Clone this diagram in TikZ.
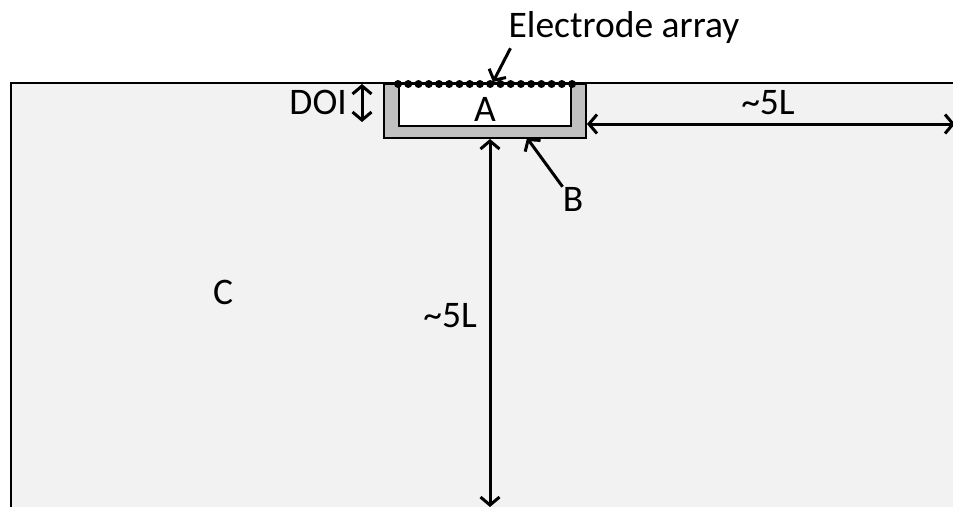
\documentclass[tikz,border=0pt]{standalone}
\usepackage{fontspec}
\setmainfont{Carlito}
\usepackage{xcolor}
\usepackage{tikz}
\usetikzlibrary{positioning, arrows.meta}
\definecolor{soilgrey}{HTML}{F2F2F2}
\definecolor{shellgrey}{HTML}{C0C0C0}

\begin{document}
\begin{tikzpicture}[x=1pt, y=-1pt,
    lbl/.style={font=\fontsize{37.5}{42}\selectfont, inner sep=2pt},
    zone/.style={draw=black, line width=2pt, inner sep=0pt, anchor=north west},
    pointer/.style={line width=3pt, -{Straight Barb[length=8pt, width=19pt, line width=3pt]}},
    span/.style={line width=3pt, {Straight Barb[length=8pt, width=19pt, line width=3pt]}-{Straight Barb[length=8pt, width=19pt, line width=3pt]}}]
    \useasboundingbox (0,0) rectangle (953,506);
    \clip (0,0) rectangle (953,506);
    % half space
    \draw[fill=soilgrey, line width=2pt] (11,83) rectangle (990,540);
    % inversion zones
    \node[zone, fill=shellgrey, minimum width=202pt, minimum height=54pt] (zoneB) at (383,83) {};
    \node[zone, fill=white, minimum width=172pt, minimum height=42pt] (zoneA) at (398,83) {};
    \node[lbl] (labA) at (zoneA.center) [yshift=-4pt] {A};
    % electrode array
    \draw[line width=2.2pt] (398,84) -- (572,84);
    \foreach \i in {0,...,17}
      \fill (398+\i*10.24, 84) circle (4pt);
    % labels
    \node[lbl] (elabel) at (624,28) {Electrode array};
    \node[lbl, anchor=east] (doi) at (349,102) {DOI};
    \node[lbl] (labB) at (573,199) {B};
    \node[lbl] (labC) at (223,292) {C};
    \coordinate (etip) at (493,82);
    \coordinate (btip) at (527,138);
    \coordinate (doitop) at (362,84);
    \coordinate (doibot) at (362,122);
    \coordinate (vbot) at (490,507);
    \coordinate (hend) at (955,124);
    \draw[pointer] ([xshift=4pt, yshift=-2pt]elabel.south west) -- (etip);
    \draw[pointer] ([xshift=2pt, yshift=-2pt]labB.north west) -- (btip);
    \draw[span] (doitop) -- (doibot);
    % extents
    \draw[span] (vbot |- zoneB.south) -- (vbot);
    \draw[span] (zoneB.east |- hend) -- (hend);
    \node[lbl, anchor=east] (vlen) at (479,316) {\textasciitilde 5L};
    \node[lbl] (hlen) at (768,103) {\textasciitilde 5L};
\end{tikzpicture}
\end{document}
